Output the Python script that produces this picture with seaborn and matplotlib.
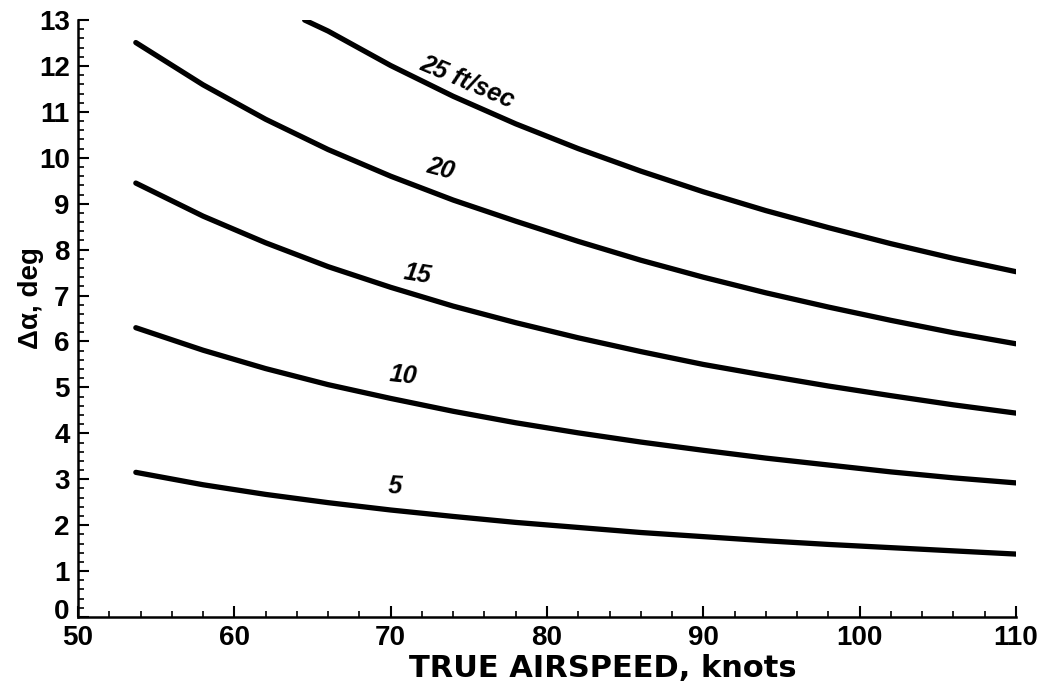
import matplotlib
matplotlib.use("Agg")
import matplotlib.pyplot as plt
from matplotlib.ticker import MultipleLocator
import matplotlib.transforms as mtransforms
import pandas as pd
import seaborn as sns

# ---- data ----
speed_25 = [64.5, 66, 70, 74, 78, 82, 86, 90, 94, 98, 102, 106, 110]
alpha_25 = [13.0, 12.76, 12.01, 11.34, 10.74, 10.20, 9.71, 9.26, 8.85, 8.48, 8.13, 7.81, 7.52]

speed_common = [53.7, 58, 62, 66, 70, 74, 78, 82, 86, 90, 94, 98, 102, 106, 110]
alpha_20 = [12.51, 11.59, 10.84, 10.18, 9.60, 9.08, 8.62, 8.18, 7.77, 7.40, 7.06, 6.75, 6.46, 6.19, 5.95]
alpha_15 = [9.45, 8.73, 8.15, 7.63, 7.18, 6.77, 6.41, 6.08, 5.78, 5.50, 5.26, 5.03, 4.82, 4.62, 4.44]
alpha_10 = [6.30, 5.81, 5.41, 5.06, 4.76, 4.48, 4.23, 4.01, 3.81, 3.63, 3.46, 3.31, 3.16, 3.03, 2.92]
alpha_5 = [3.15, 2.88, 2.67, 2.49, 2.33, 2.19, 2.06, 1.95, 1.84, 1.75, 1.66, 1.58, 1.51, 1.44, 1.37]

gust_labels = ["25 ft/sec", "20", "15", "10", "5"]
label_speed = [74.9, 73.2, 71.7, 70.8, 70.3]
label_alpha = [11.65, 9.75, 7.47, 5.27, 2.84]
label_rot = [-23, -15, -9, -6, -3]

x_ticks = [50, 60, 70, 80, 90, 100, 110]
y_ticks = list(range(0, 14))

# ---- build long table ----
frames = [pd.DataFrame({"speed": speed_25, "alpha": alpha_25, "gust": "25"})]
for g, a in zip(["20", "15", "10", "5"], [alpha_20, alpha_15, alpha_10, alpha_5]):
    frames.append(pd.DataFrame({"speed": speed_common, "alpha": a, "gust": g}))
df = pd.concat(frames, ignore_index=True)

sns.set_style("ticks")
plt.rcParams["font.family"] = ["Liberation Sans", "DejaVu Sans"]
plt.rcParams["font.weight"] = "bold"
for k in ["text.color", "axes.labelcolor", "xtick.color", "ytick.color", "axes.edgecolor"]:
    plt.rcParams[k] = "black"

fig = plt.figure(figsize=(10.44, 6.92), dpi=100)
ax = fig.add_axes([0.0747, 0.1084, 0.8985, 0.8626])

sns.lineplot(data=df, x="speed", y="alpha", hue="gust",
             palette=["black"] * 5, legend=False, linewidth=3.8,
             sort=True, ax=ax, solid_capstyle="round", solid_joinstyle="round")

for t, xs, ys, r in zip(gust_labels, label_speed, label_alpha, label_rot):
    ax.text(xs, ys, t, rotation=r, ha="center", va="center",
            fontsize=18, fontweight="bold", fontstyle="italic",
            rotation_mode="anchor", color="black")

ax.set_xlim(50, 110)
ax.set_ylim(0, 13)
ax.set_xticks(x_ticks)
ax.set_yticks(y_ticks)
ax.xaxis.set_minor_locator(MultipleLocator(2))
ax.yaxis.set_minor_locator(MultipleLocator(0.2))
ax.tick_params(axis="both", which="major", direction="in", length=8,
               width=1.5, labelsize=20, colors="black")
ax.tick_params(axis="both", which="minor", direction="in", length=4,
               width=1.2, colors="black")
ax.tick_params(axis="x", pad=6)
ax.tick_params(axis="y", pad=6)
for lab in ax.get_xticklabels() + ax.get_yticklabels():
    lab.set_fontweight("bold")

# raise the "0" label a little, as in the reference
zero_lab = ax.get_yticklabels()[0]
zero_lab.set_transform(zero_lab.get_transform() +
                       mtransforms.ScaledTranslation(0, 8 / 100, fig.dpi_scale_trans))

sns.despine(ax=ax)
for s in ["left", "bottom"]:
    ax.spines[s].set_linewidth(1.8)
    ax.spines[s].set_color("black")

ax.set_xlabel("TRUE AIRSPEED, knots", fontsize=22, fontweight="bold",
              family=["DejaVu Sans"])
ax.xaxis.set_label_coords(0.559, -0.062)
ax.set_ylabel("Δα, deg", fontsize=20, fontweight="bold")
ax.yaxis.set_label_coords(-0.036, 0.534)

fig.savefig("out.png", dpi=100)
